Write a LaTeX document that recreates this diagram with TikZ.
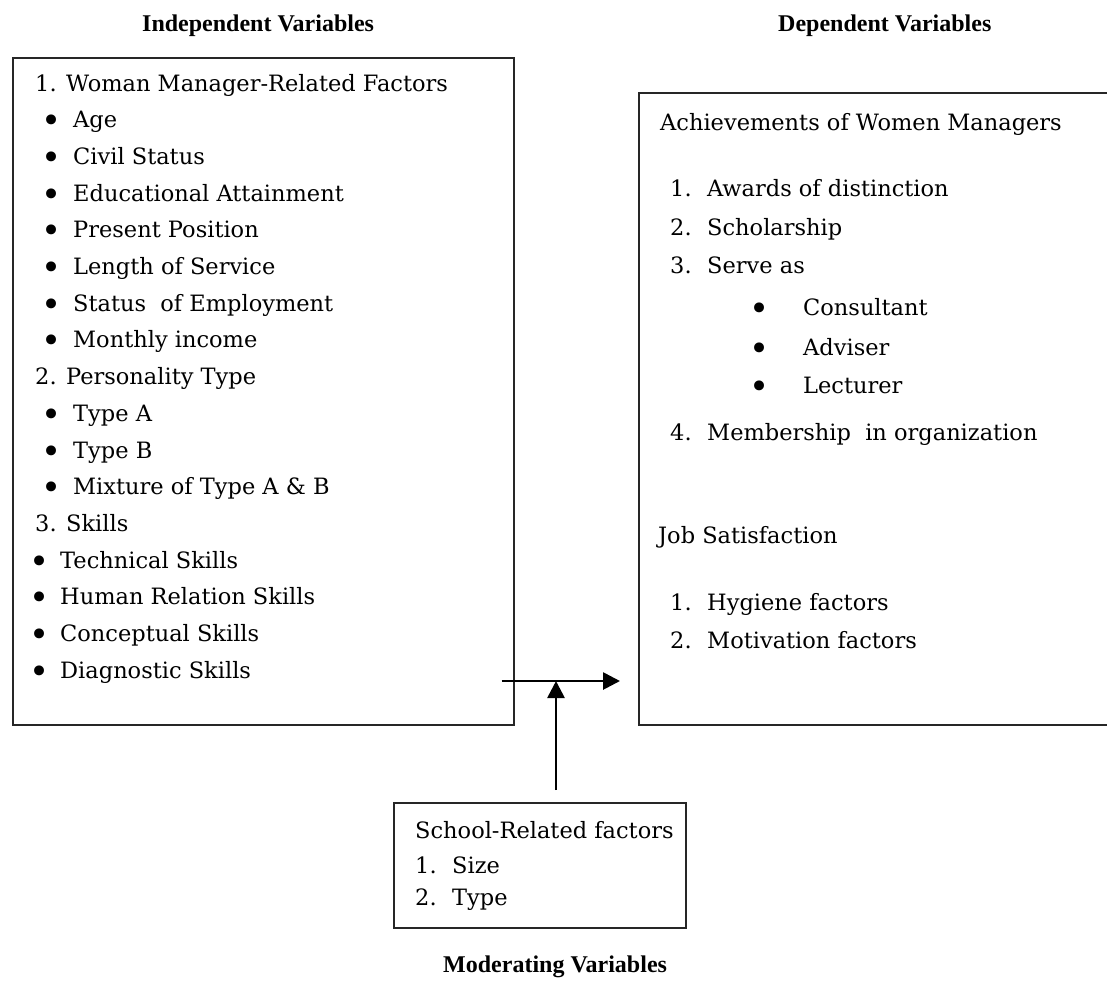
\documentclass[tikz,border=0pt]{standalone}
\usepackage{fontspec}
\setmainfont{DejaVu Serif}
\newfontfamily\headfont{Liberation Serif}
\usetikzlibrary{arrows.meta}

\begin{document}
\begin{tikzpicture}[x=1pt, y=-1pt, >={Triangle[length=17pt,width=17pt]},
    varbox/.style={draw=black!85, line width=1.5pt, fill=white, anchor=north west, inner sep=0pt},
    txt/.style={anchor=base west, inner sep=0pt, font=\fontsize{22.5}{27}\selectfont},
    blt/.style={anchor=base, inner sep=0pt, yshift=-5pt, font=\fontsize{34}{36}\selectfont},
    head/.style={anchor=base west, inner sep=0pt, font=\headfont\bfseries\fontsize{24}{28}\selectfont},
    link/.style={->, line width=2.7pt}]
    \useasboundingbox (0,0) rectangle (1107,980);

    % titles
    \node[head] (hind) at (142,31) {Independent Variables};
    \node[head] (hdep) at (778,31) {Dependent Variables};
    \node[head] (hmod) at (443,972) {Moderating Variables};

    % boxes
    \node[varbox, minimum width=501pt, minimum height=667pt] (indep) at (12,57) {};
    \node[varbox, minimum width=500pt, minimum height=632pt] (dep) at (638,92) {};
    \node[varbox, minimum width=292pt, minimum height=125pt] (school) at (393,802) {};

    % independent variables
    \node[txt] (w0) at (35,91) {1. Woman Manager-Related Factors};
    \node[blt] (wb1) at (52,127.7) {\textbullet}; \node[txt] (w1) at (73,127.7) {Age};
    \node[blt] (wb2) at (52,164.4) {\textbullet}; \node[txt] (w2) at (73,164.4) {Civil Status};
    \node[blt] (wb3) at (52,201.1) {\textbullet}; \node[txt] (w3) at (73,201.1) {Educational Attainment};
    \node[blt] (wb4) at (52,237.8) {\textbullet}; \node[txt] (w4) at (73,237.8) {Present Position};
    \node[blt] (wb5) at (52,274.5) {\textbullet}; \node[txt] (w5) at (73,274.5) {Length of Service};
    \node[blt] (wb6) at (52,311.2) {\textbullet}; \node[txt] (w6) at (73,311.2) {Status~ of Employment};
    \node[blt] (wb7) at (52,347.9) {\textbullet}; \node[txt] (w7) at (73,347.9) {Monthly income};
    \node[txt] (p0) at (35,384.6) {2. Personality Type};
    \node[blt] (pb1) at (52,421.3) {\textbullet}; \node[txt] (p1) at (73,421.3) {Type A};
    \node[blt] (pb2) at (52,458) {\textbullet}; \node[txt] (p2) at (73,458) {Type B};
    \node[blt] (pb3) at (52,494.7) {\textbullet}; \node[txt] (p3) at (73,494.7) {Mixture of Type A \& B};
    \node[txt] (s0) at (35,531.4) {3. Skills};
    \node[blt] (sb1) at (40,568.1) {\textbullet}; \node[txt] (s1) at (60,568.1) {Technical Skills};
    \node[blt] (sb2) at (40,604.8) {\textbullet}; \node[txt] (s2) at (60,604.8) {Human Relation Skills};
    \node[blt] (sb3) at (40,641.5) {\textbullet}; \node[txt] (s3) at (60,641.5) {Conceptual Skills};
    \node[blt] (sb4) at (40,678.2) {\textbullet}; \node[txt] (s4) at (60,678.2) {Diagnostic Skills};

    % dependent variables
    \node[txt] (a0) at (660,130) {Achievements of Women Managers};
    \node[txt] (an1) at (670,196) {1.}; \node[txt] (a1) at (707,196) {Awards of distinction};
    \node[txt] (an2) at (670,235) {2.}; \node[txt] (a2) at (707,235) {Scholarship};
    \node[txt] (an3) at (670,273) {3.}; \node[txt] (a3) at (707,273) {Serve as};
    \node[blt] (ab1) at (760,315) {\textbullet}; \node[txt] (c1) at (803,315) {Consultant};
    \node[blt] (ab2) at (760,355) {\textbullet}; \node[txt] (c2) at (803,355) {Adviser};
    \node[blt] (ab3) at (760,393) {\textbullet}; \node[txt] (c3) at (803,393) {Lecturer};
    \node[txt] (an4) at (670,440) {4.}; \node[txt] (a4) at (707,440) {Membership~ in organization};
    \node[txt] (j0) at (658,543) {Job Satisfaction};
    \node[txt] (jn1) at (670,610) {1.}; \node[txt] (j1) at (707,610) {Hygiene factors};
    \node[txt] (jn2) at (670,648) {2.}; \node[txt] (j2) at (707,648) {Motivation factors};

    % moderating variables
    \node[txt] (m0) at (415,838) {School-Related factors};
    \node[txt] (mn1) at (415,873) {1.}; \node[txt] (m1) at (452,873) {Size};
    \node[txt] (mn2) at (415,905) {2.}; \node[txt] (m2) at (452,905) {Type};

    % connectors
    \coordinate (mid) at (556,681);
    \draw[link, shorten <=-13pt, shorten >=18pt] (indep.east |- mid) -- (dep.west |- mid);
    \draw[link, shorten <=12pt] (mid |- school.north) -- (mid);
\end{tikzpicture}
\end{document}
